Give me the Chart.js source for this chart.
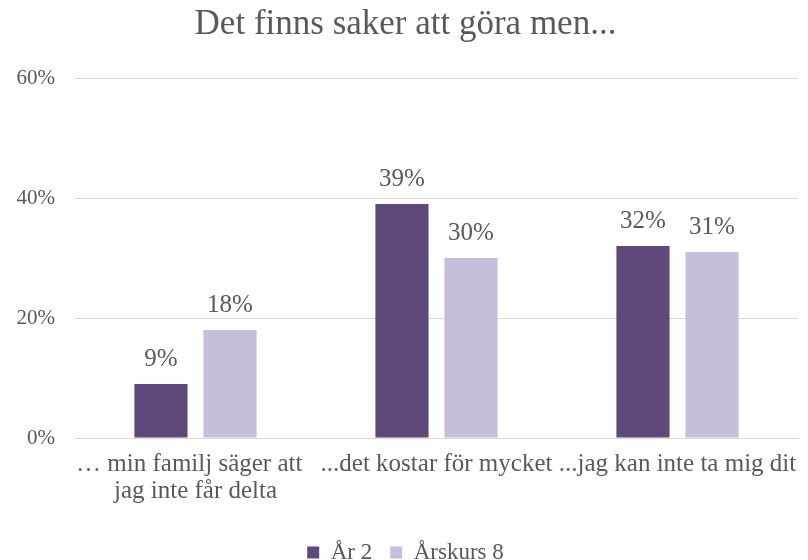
<!DOCTYPE html>
<html>
<head>
<meta charset="utf-8">
<script src="https://cdn.jsdelivr.net/npm/chart.js@4"></script>
<style>
  body { margin: 0; background: #fff; }
  #wrap { width: 808px; height: 560px; }
</style>
</head>
<body>
<div id="wrap"><canvas id="chart-1"></canvas></div>
<script>
const categories = [
  ['… min familj säger att  ', 'jag inte får delta'],
  '...det kostar för mycket',
  '...jag kan inte ta mig dit'
];
const seriesNames = ['År 2', 'Årskurs 8'];
const ar2 = [9, 39, 32];
const arskurs8 = [18, 30, 31];
const yTicks = [0, 20, 40, 60];

const textColor = '#595959';
const fontFam = '"Liberation Serif", "DejaVu Serif", serif';

// egen plugin for value labels over bars (no datalabels plugin here)
const valueLabels = {
  id: 'valueLabels',
  afterDatasetsDraw(chart) {
    const ctx = chart.ctx;
    ctx.save();
    ctx.font = '25px ' + fontFam;
    ctx.fillStyle = textColor;
    ctx.textAlign = 'center';
    ctx.textBaseline = 'middle';
    chart.data.datasets.forEach((ds, i) => {
      chart.getDatasetMeta(i).data.forEach((bar, j) => {
        ctx.fillText(ds.data[j] + '%', bar.x, bar.y - 25);
      });
    });
    ctx.restore();
  }
};

const ctx1 = document.getElementById('chart-1').getContext('2d');
const chart1 = new Chart(ctx1, {
  type: 'bar',
  data: {
    labels: categories,
    datasets: [
      {
        label: seriesNames[0],
        data: ar2,
        backgroundColor: '#5E497A'
      },
      {
        label: seriesNames[1],
        data: arskurs8,
        backgroundColor: '#C8BDDB'
      }
    ]
  },
  options: {
    responsive: true,
    maintainAspectRatio: false,
    animation: false,
    categoryPercentage: 0.573,
    barPercentage: 0.77,
    // bottom negativ sa legenden hamnar langst ner
    layout: { padding: { left: 13, right: 10, top: 2, bottom: -14 } },
    plugins: {
      title: {
        display: true,
        text: 'Det finns saker att göra men...',
        color: textColor,
        font: { family: fontFam, size: 35, weight: 'normal' },
        padding: { top: 2, bottom: 32 }
      },
      legend: {
        position: 'bottom',
        labels: {
          color: textColor,
          font: { family: fontFam, size: 23 },
          boxWidth: 12,
          boxHeight: 12,
          padding: 18
        }
      },
      tooltip: { enabled: false }
    },
    scales: {
      x: {
        grid: { display: false },
        border: { color: '#d9d9d9', width: 1 },
        afterFit(axis) {
          axis.height = 85;
        },
        ticks: {
          color: textColor,
          font: { family: fontFam, size: 25, lineHeight: 1.08 },
          maxRotation: 0,
          autoSkip: false,
          padding: 5
        }
      },
      y: {
        min: 0,
        max: 60,
        afterBuildTicks(axis) {
          axis.ticks = yTicks.map(v => ({ value: v }));
        },
        afterFit(axis) {
          axis.width = 62;
        },
        grid: { color: '#d9d9d9', drawTicks: false },
        border: { display: false },
        ticks: {
          color: textColor,
          font: { family: fontFam, size: 21 },
          padding: 20,
          callback: v => v + '%'
        }
      }
    }
  },
  plugins: [valueLabels]
});
</script>
</body>
</html>
